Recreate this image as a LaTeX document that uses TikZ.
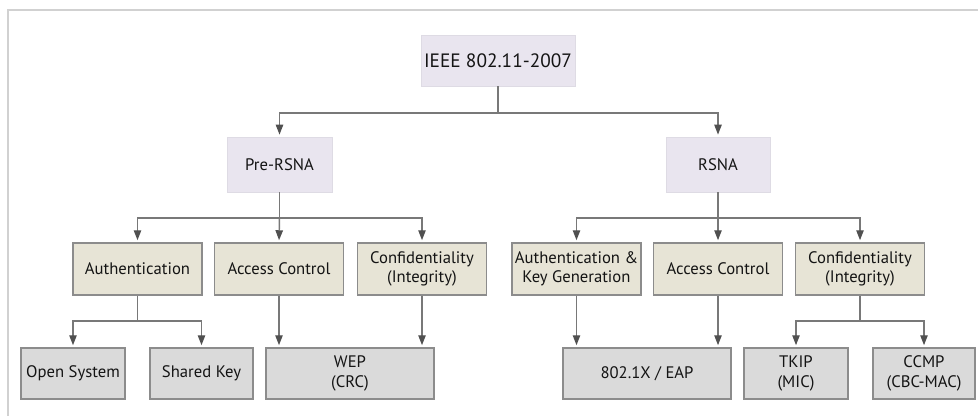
\documentclass[tikz,border=0pt]{standalone}
\usepackage{fontspec}
\setmainfont{PT Sans}
\usetikzlibrary{arrows.meta}

\definecolor{topfill}{RGB}{233,229,239}
\definecolor{midfill}{RGB}{231,228,214}
\definecolor{lowfill}{RGB}{218,218,218}
\definecolor{boxline}{RGB}{140,140,140}
\definecolor{linkline}{RGB}{120,120,120}
\definecolor{tipfill}{RGB}{80,80,80}

\tikzset{every picture/.style={line width=0.75pt}}
\tikzset{
  topbox/.style={fill=topfill, draw=topfill!90!gray, line width=0.5pt, align=center, inner sep=0pt,
    font=\fontsize{12.5}{14.5}\selectfont, text=black!92},
  midbox/.style={fill=midfill, draw=boxline, line width=1.1pt, align=center, inner sep=0pt,
    minimum width=129*0.75pt, minimum height=52*0.75pt, font=\fontsize{12.5}{14.5}\selectfont, text=black!92},
  lowbox/.style={fill=lowfill, draw=boxline, line width=1.1pt, align=center, inner sep=0pt,
    minimum height=51*0.75pt, font=\fontsize{12.5}{14.5}\selectfont, text=black!92},
  link/.style={draw=linkline, line width=1.1pt,
    -{Triangle[length=7.5pt,width=5.5pt,color=tipfill,fill=tipfill]}, shorten >=1.5pt},
  frame/.style={draw=black!18, line width=1.2pt}
}

\begin{document}
\begin{tikzpicture}[x=0.75pt,y=0.75pt,yscale=-1,xscale=1]
	\useasboundingbox (0,0) rectangle (978,416);

	%Frame
	\draw [frame] (8,416) |- (978,10) ;

	% Top level
	\node [topbox, minimum width=154*0.75pt, minimum height=51*0.75pt, font=\fontsize{14.5}{16}\selectfont] (ieee) at (498,60.5) {IEEE 802.11-2007};
	\node [topbox, minimum width=105*0.75pt, minimum height=55*0.75pt] (pre) at (279.5,164.5) {Pre-RSNA};
	\node [topbox, minimum width=104*0.75pt, minimum height=55*0.75pt] (rsna) at (718,164.5) {RSNA};

	% Second level
	\node [midbox] (preauth) at (137.5,269) {Authentication};
	\node [midbox] (preac) at (279,269) {Access Control};
	\node [midbox] (preconf) at (422,269) {Confidentiality\\(Integrity)};
	\node [midbox] (rsnauth) at (576.5,269) {Authentication \&\\Key Generation};
	\node [midbox] (rsnac) at (718,269) {Access Control};
	\node [midbox] (rsnconf) at (860,269) {Confidentiality\\(Integrity)};

	% Third level
	\node [lowbox, minimum width=104*0.75pt] (open) at (73,373.5) {Open System};
	\node [lowbox, minimum width=103*0.75pt] (shared) at (201.5,373.5) {Shared Key};
	\node [lowbox, minimum width=168*0.75pt] (wep) at (350,373.5) {WEP\\(CRC)};
	\node [lowbox, minimum width=168*0.75pt] (eap) at (647,373.5) {802.1X / EAP};
	\node [lowbox, minimum width=104*0.75pt] (tkip) at (796,373.5) {TKIP\\(MIC)};
	\node [lowbox, minimum width=102*0.75pt] (ccmp) at (924,373.5) {CCMP\\(CBC-MAC)};

	% Junctions
	\coordinate (j0) at (498,113);
	\coordinate (j1) at (279.5,218);
	\coordinate (j2) at (718,218);
	\coordinate (j3) at (137.5,321);
	\coordinate (j4) at (860,321);

	% Connectors
	\draw [link] (ieee.south) -- (j0) -| (pre.north);
	\draw [link] (j0) -| (rsna.north);

	\draw [link] (pre.south) -- (j1) -| (preauth.north);
	\draw [link] (j1) -- (preac.north);
	\draw [link] (j1) -| (preconf.north);

	\draw [link] (rsna.south) -- (j2) -| (rsnauth.north);
	\draw [link] (j2) -- (rsnac.north);
	\draw [link] (j2) -| (rsnconf.north);

	\draw [link] (preauth.south) -- (j3) -| (open.north);
	\draw [link] (j3) -| (shared.north);
	\draw [link] (preac.south) -- (preac.south |- wep.north);
	\draw [link] (preconf.south) -- (preconf.south |- wep.north);

	\draw [link] (rsnauth.south) -- (rsnauth.south |- eap.north);
	\draw [link] (rsnac.south) -- (rsnac.south |- eap.north);
	\draw [link] (rsnconf.south) -- (j4) -| (tkip.north);
	\draw [link] (j4) -| (ccmp.north);

\end{tikzpicture}
\end{document}
